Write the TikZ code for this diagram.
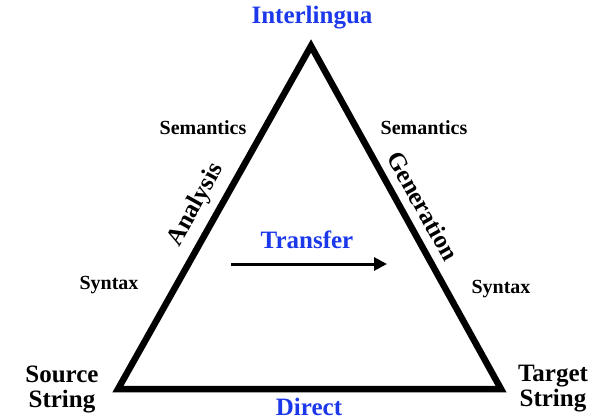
\documentclass[tikz,border=0pt]{standalone}
\usepackage{fontspec}
\setmainfont{Liberation Serif}
\usetikzlibrary{arrows.meta,positioning}
\definecolor{mtblue}{RGB}{28,56,235}

\begin{document}
\begin{tikzpicture}[
  x=1pt, y=-1pt,
  side/.style={line width=6.5pt, line join=miter},
  big/.style={font=\fontsize{25}{27}\selectfont\bfseries, align=center, inner sep=0pt},
  small/.style={font=\fontsize{20}{22}\selectfont\bfseries, inner sep=0pt},
  approach/.style={big, text=mtblue}
]
  \useasboundingbox (0,0) rectangle (597,420);
  % corners of the triangle
  \coordinate (src) at (118,389);
  \coordinate (top) at (311,46);
  \coordinate (tgt) at (501,389);
  \draw[side] (src) -- (top) -- (tgt) -- cycle;
  % levels
  \node[approach] (inter) at (312,18) {Interlingua};
  \node[approach] (direct) at (309,407) {Direct};
  \node[approach] (transfer) at (307,240) {Transfer};
  \node[big] (source) at (62,389) {Source\\[-2pt]String};
  \node[big] (target) at (553,389) {Target\\[-2pt]String};
  \node[small] (semL) at (203,128) {Semantics};
  \node[small] (semR) at (424,128) {Semantics};
  \node[small] (synL) at (109,285) {Syntax};
  \node[small] (synR) at (501,289) {Syntax};
  \node[big, rotate=61] (analysis) at (196,205) {Analysis};
  \node[big, rotate=-61] (generation) at (423,206) {Generation};
  % transfer arrow
  \coordinate (tr-from) at (231,264);
  \coordinate (tr-to) at (387,264);
  \draw[-{Triangle[length=13pt,width=13pt]}, line width=3pt] (tr-from) -- (tr-to);
\end{tikzpicture}
\end{document}
